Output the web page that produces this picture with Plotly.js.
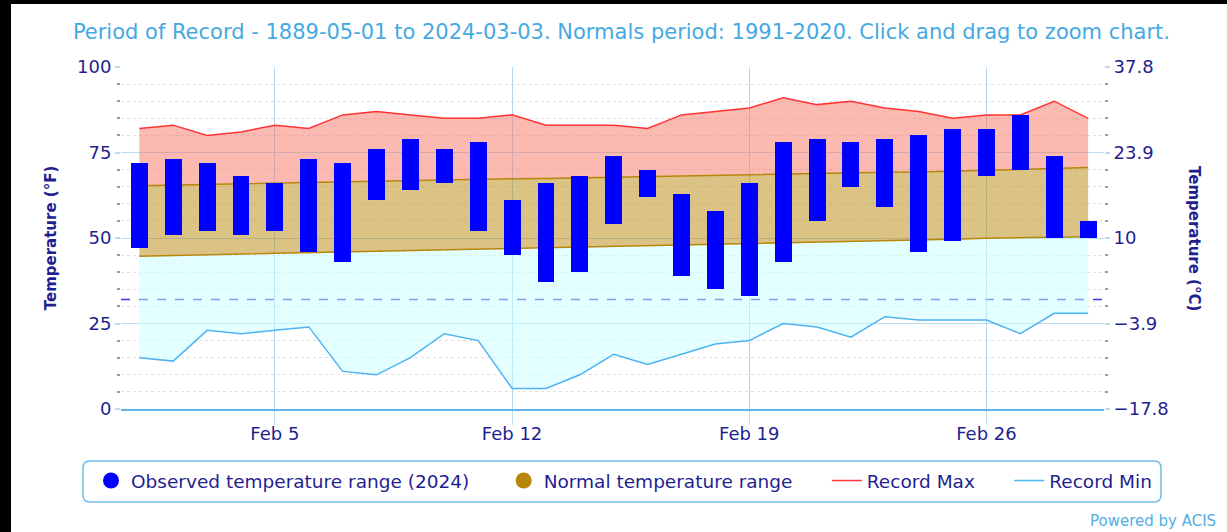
<!DOCTYPE html>
<html>
<head>
<meta charset="utf-8">
<script src="https://cdn.plot.ly/plotly-3.0.1.min.js"></script>
<style>
  html, body { margin: 0; padding: 0; background: #000; width: 1227px; height: 532px; overflow: hidden; }
  #chart { position: absolute; left: 11px; top: 4px; width: 1216px; height: 528px; background: #fff; }
</style>
</head>
<body>
<div id="chart"></div>
<script>
// ---------- data ----------
const dates = ['2024-02-01','2024-02-02','2024-02-03','2024-02-04','2024-02-05','2024-02-06','2024-02-07',
  '2024-02-08','2024-02-09','2024-02-10','2024-02-11','2024-02-12','2024-02-13','2024-02-14','2024-02-15',
  '2024-02-16','2024-02-17','2024-02-18','2024-02-19','2024-02-20','2024-02-21','2024-02-22','2024-02-23',
  '2024-02-24','2024-02-25','2024-02-26','2024-02-27','2024-02-28','2024-02-29'];
const obsHigh = [72,73,72,68,66,73,72,76,79,76,78,61,66,68,74,70,63,58,66,78,79,78,79,80,82,82,86,74,55];
const obsLow  = [47,51,52,51,52,46,43,61,64,66,52,45,37,40,54,62,39,35,33,43,55,65,59,46,49,68,70,50,50];
const normHigh = [65.3,65.5,65.7,65.8,66.0,66.2,66.4,66.5,66.7,66.9,67.1,67.3,67.4,67.6,67.7,67.9,68.1,68.3,68.4,68.6,68.8,69.0,69.2,69.3,69.5,69.7,70.0,70.3,70.6];
const normLow  = [44.7,44.9,45.1,45.3,45.5,45.7,45.9,46.0,46.2,46.4,46.6,46.8,47.0,47.2,47.4,47.6,47.9,48.1,48.4,48.6,48.8,49.0,49.2,49.4,49.6,49.9,50.1,50.3,50.4];
const recMax = [82,83,80,81,83,82,86,87,86,85,85,86,83,83,83,82,86,87,88,91,89,90,88,87,85,86,86,90,85];
const recMin = [15,14,23,22,23,24,11,10,15,22,20,6,6,10,16,13,16,19,20,25,24,21,27,26,26,26,22,28,28];
const freezing = 32;
const xTickVals = ['2024-02-05','2024-02-12','2024-02-19','2024-02-26'];
const xTickText = ['Feb 5','Feb 12','Feb 19','Feb 26'];
const yTicksF = [0,25,50,75,100];
const yTicksC = ['\u221217.8','\u22123.9','10','23.9','37.8'];
const titleText = 'Period of Record - 1889-05-01 to 2024-03-03. Normals period: 1991-2020. Click and drag to zoom chart.';

// ---------- styling ----------
const FONT = 'DejaVu Sans';
const NAVY = '#1f1f8f';
const NB = '\u00a0';
const pad = n => NB.repeat(n);

const traces = [
  { x: dates, y: recMin, type: 'scatter', mode: 'lines', name: 'Record Min', legendrank: 4,
    line: { color: '#4db3f2', width: 1.5 }, hoverinfo: 'y' },
  { x: dates, y: normLow, type: 'scatter', mode: 'lines', showlegend: false, fill: 'tonexty',
    fillcolor: 'rgba(200,255,255,0.5)', line: { color: '#b8860b', width: 1.5 }, hoverinfo: 'y' },
  { x: dates, y: normHigh, type: 'scatter', mode: 'lines', showlegend: false, fill: 'tonexty',
    fillcolor: 'rgba(184,134,11,0.5)', line: { color: '#b8860b', width: 1.5 }, hoverinfo: 'y' },
  { x: dates, y: recMax, type: 'scatter', mode: 'lines', showlegend: false, fill: 'tonexty',
    fillcolor: 'rgba(245,115,100,0.5)', line: { color: '#ff3333', width: 1.5 }, hoverinfo: 'y' },
  { x: dates, y: obsHigh.map((h, i) => h - obsLow[i]), base: obsLow, type: 'bar', yaxis: 'y2',
    width: 0.5 * 86400000, marker: { color: '#0000ff', line: { width: 0 } }, showlegend: false, hoverinfo: 'x' },
  { x: [null], y: [null], type: 'scatter', mode: 'markers', name: 'Observed temperature range (2024)' + pad(5),
    legendrank: 1, marker: { color: '#0000ff', size: 16, symbol: 'circle' } },
  { x: [null], y: [null], type: 'scatter', mode: 'markers', name: 'Normal temperature range' + pad(5),
    legendrank: 2, marker: { color: '#b8860b', size: 16, symbol: 'circle' } },
  { x: [null], y: [null], type: 'scatter', mode: 'lines', name: 'Record Max' + pad(5),
    legendrank: 3, line: { color: '#ff3333', width: 1.5 } }
];

// geometry of the div (pixels)
const W = 1216, H = 528;
const M = { l: 110, r: 123, t: 63, b: 123 };
const pw = W - M.l - M.r, ph = H - M.t - M.b;
const px2x = p => (p - M.l) / pw;
const py2y = p => (H - M.b - p) / ph;
function roundRect(x0, y0, x1, y1, r) {
  const P = (x, y) => px2x(x).toFixed(5) + ',' + py2y(y).toFixed(5);
  return 'M' + P(x0 + r, y0) + ' L' + P(x1 - r, y0) + ' Q' + P(x1, y0) + ' ' + P(x1, y0 + r) +
    ' L' + P(x1, y1 - r) + ' Q' + P(x1, y1) + ' ' + P(x1 - r, y1) +
    ' L' + P(x0 + r, y1) + ' Q' + P(x0, y1) + ' ' + P(x0, y1 - r) +
    ' L' + P(x0, y0 + r) + ' Q' + P(x0, y0) + ' ' + P(x0 + r, y0) + ' Z';
}

const layout = {
  width: W, height: H,
  margin: M,
  paper_bgcolor: '#ffffff', plot_bgcolor: 'rgba(0,0,0,0)',
  font: { family: FONT, color: NAVY, size: 17 },
  showlegend: true,
  title: { text: titleText, x: 0.502, xref: 'container', xanchor: 'center', y: 1 - 28 / H, yanchor: 'middle',
    font: { family: FONT, size: 21, color: '#45a9e2' } },
  bargap: 0,
  xaxis: {
    type: 'date', range: ['2024-01-31 11:00', '2024-02-29 11:15'],
    tickmode: 'array', tickvals: xTickVals, ticktext: xTickText,
    ticks: 'outside', ticklen: 14, tickcolor: '#c3dbee', tickwidth: 1, ticklabelstandoff: -7,
    showgrid: true, gridcolor: '#b3d6ee', gridwidth: 1,
    showline: true, linecolor: '#5cb6e6', linewidth: 2,
    zeroline: false, tickfont: { family: FONT, size: 18, color: NAVY }
  },
  yaxis: {
    range: [0, 100], tickmode: 'array', tickvals: yTicksF,
    ticks: 'outside', ticklen: 5, tickcolor: '#b5dbf2', tickwidth: 2,
    showgrid: true, gridcolor: '#b9ddf3', gridwidth: 1, zeroline: false, showline: false,
    tickfont: { family: FONT, size: 18, color: NAVY },
    minor: { tickmode: 'linear', tick0: 0, dtick: 5, ticks: 'outside', ticklen: 3, tickcolor: '#9a9a9a',
      showgrid: true, gridcolor: '#e0e0e0', griddash: 'dot', gridwidth: 1 },
    title: { text: 'Temperature (°F)', standoff: 16, font: { family: FONT, size: 15, color: NAVY, weight: 'bold' } }
  },
  yaxis2: {
    overlaying: 'y', side: 'right', range: [0, 100], tickmode: 'array', tickvals: yTicksF, ticktext: yTicksC,
    ticks: 'outside', ticklen: 5, tickcolor: '#b5dbf2', tickwidth: 2,
    showgrid: false, zeroline: false, showline: false,
    tickfont: { family: FONT, size: 18, color: NAVY },
    minor: { tickmode: 'linear', tick0: 0, dtick: 5, ticks: 'outside', ticklen: 3, tickcolor: '#9a9a9a', showgrid: false }
  },
  legend: {
    orientation: 'h', x: px2x(80), xanchor: 'left', y: py2y(477), yanchor: 'middle',
    bgcolor: 'rgba(0,0,0,0)', borderwidth: 0, font: { family: FONT, size: 18.5, color: NAVY },
    traceorder: 'normal'
  },
  shapes: [
    { type: 'line', xref: 'paper', x0: 0, x1: 1, yref: 'y', y0: freezing, y1: freezing, layer: 'below',
      line: { color: '#3a3af0', width: 1.5, dash: 'dash' } },
    { type: 'path', xref: 'paper', yref: 'paper', path: roundRect(72, 457, 1150, 498, 7), layer: 'above',
      line: { color: '#6fbde8', width: 1.5 }, fillcolor: 'rgba(0,0,0,0)' }
  ],
  annotations: [
    { text: 'Temperature (°C)', xref: 'paper', yref: 'paper', x: px2x(1183), y: py2y(234),
      xanchor: 'center', yanchor: 'middle', textangle: 90, showarrow: false,
      font: { family: FONT, size: 15, color: NAVY, weight: 'bold' } },
    { text: 'Powered by ACIS', xref: 'paper', yref: 'paper', x: px2x(1207), y: py2y(517),
      xanchor: 'right', yanchor: 'middle', showarrow: false,
      font: { family: FONT, size: 15, color: '#55aee2' } }
  ]
};

Plotly.newPlot('chart', traces, layout, { displayModeBar: false, responsive: false });
</script>
</body>
</html>
